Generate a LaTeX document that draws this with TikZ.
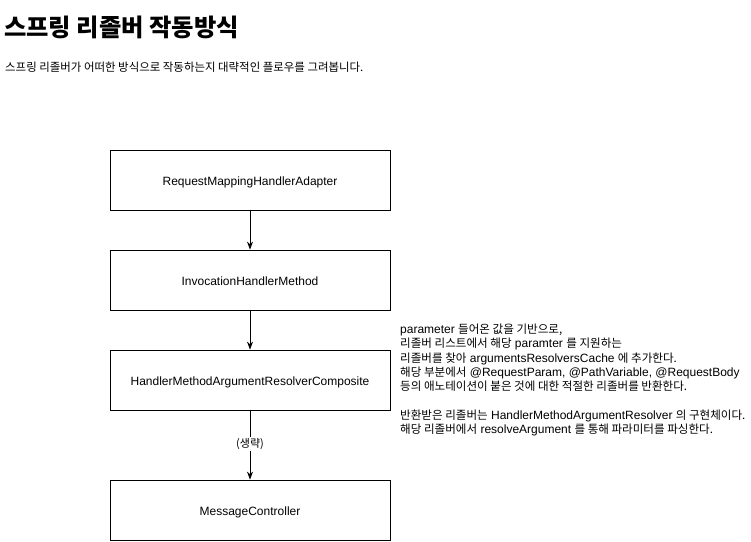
\documentclass[tikz,border=0pt]{standalone}
\usepackage{fontspec}
\setmainfont{Liberation Sans}
\newfontfamily\kr{Noto Sans CJK KR}
\newcommand\K[1]{{\kr\fontsize{11.55}{14.3}\selectfont #1}}
\usetikzlibrary{arrows.meta}
\begin{document}
\begin{tikzpicture}[x=1pt,y=-1pt,
  box/.style={draw,line width=0.8pt,minimum width=280pt,minimum height=60pt,inner sep=0pt,text height=10.5pt,text depth=0pt,font=\fontsize{12}{14}\selectfont},
  arr/.style={line width=0.8pt,-{Stealth[length=8pt,width=6pt]}}]
\useasboundingbox[fill=white] (0,0) rectangle (751,541);
\node[anchor=west,inner sep=0pt,font=\fontsize{24.3}{28}\selectfont\kr\bfseries] (title) at (4,27) {스프링 리졸버 작동방식};
\node[anchor=west,inner sep=0pt,font=\fontsize{11.45}{13}\selectfont\kr] (sub) at (5,67) {스프링 리졸버가 어떠한 방식으로 작동하는지 대략적인 플로우를 그려봅니다.};
\node[box] (a) at (250,180) {RequestMappingHandlerAdapter};
\node[box] (b) at (250,280) {InvocationHandlerMethod};
\node[box] (c) at (250,380) {HandlerMethodArgumentResolverComposite};
\node[box] (d) at (250,510) {MessageController};
\draw[arr] (a) -- (b);
\draw[arr] (b) -- (c);
\draw[arr] (c) -- node[fill=white,inner sep=1.5pt,font=\fontsize{11}{13}\selectfont\kr,pos=0.48] (lbl) {(생략)} (d);
\node[anchor=west,align=left,inner sep=0pt,font=\fontsize{12}{14.3}\selectfont] (note) at (400,380) {%
parameter \K{들어온 값을 기반으로,}\\
\K{리졸버 리스트에서 해당} paramter \K{를 지원하는}\\
\K{리졸버를 찾아} argumentsResolversCache \K{에 추가한다.}\\
\K{해당 부분에서} @RequestParam, @PathVariable, @RequestBody\\
\K{등의 애노테이션이 붙은 것에 대한 적절한 리졸버를 반환한다.}\\
\\
\K{반환받은 리졸버는} HandlerMethodArgumentResolver \K{의 구현체이다.}\\
\K{해당 리졸버에서} resolveArgument \K{를 통해 파라미터를 파싱한다.}};
\end{tikzpicture}
\end{document}
